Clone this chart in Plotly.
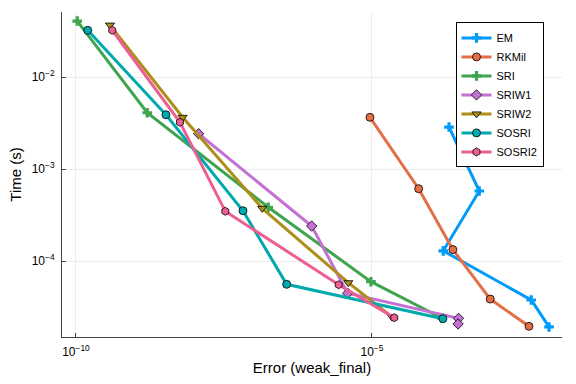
import plotly.graph_objects as go

# ---- data (error, time) ----
names = ["EM", "RKMil", "SRI", "SRIW1", "SRIW2", "SOSRI", "SOSRI2"]

em_err = [2.0e-4, 6.5e-4, 1.6e-4, 4.9e-3, 9.8e-3]
em_time = [2.86e-3, 5.77e-4, 1.29e-4, 3.77e-5, 1.92e-5]

rkmil_err = [9.25e-6, 6.15e-5, 2.33e-4, 9.95e-4, 4.49e-3]
rkmil_time = [3.65e-3, 6.11e-4, 1.33e-4, 3.86e-5, 1.95e-5]

sri_err = [1.05e-10, 1.60e-9, 1.77e-7, 9.6e-6, 1.51e-4]
sri_time = [4.06e-2, 4.09e-3, 3.84e-4, 5.96e-5, 2.40e-5]

sriw1_err = [1.18e-8, 9.57e-7, 3.89e-6, 2.9e-4, 2.85e-4]
sriw1_time = [2.42e-3, 2.40e-4, 4.46e-5, 2.38e-5, 2.07e-5]

sriw2_err = [3.75e-10, 6.34e-9, 1.40e-7, 3.98e-6, 2.18e-5]
sriw2_time = [3.67e-2, 3.65e-3, 3.74e-4, 5.81e-5, 2.46e-5]

sosri_err = [1.58e-10, 3.31e-9, 6.62e-8, 3.62e-7, 1.58e-4]
sosri_time = [3.22e-2, 3.89e-3, 3.52e-4, 5.58e-5, 2.36e-5]

sosri2_err = [4.10e-10, 5.71e-9, 3.33e-8, 2.74e-6, 2.38e-5]
sosri2_time = [3.22e-2, 3.22e-3, 3.47e-4, 5.52e-5, 2.42e-5]

x_tickvals = [1e-10, 1e-5]
x_ticktext = ["10<sup>−10</sup>", "10<sup>−5</sup>"]
y_tickvals = [1e-4, 1e-3, 1e-2]
y_ticktext = ["10<sup>−4</sup>", "10<sup>−3</sup>", "10<sup>−2</sup>"]

series = [
    (em_err, em_time), (rkmil_err, rkmil_time), (sri_err, sri_time),
    (sriw1_err, sriw1_time), (sriw2_err, sriw2_time),
    (sosri_err, sosri_time), (sosri2_err, sosri2_time),
]
colors = ["#009AFA", "#E36F47", "#3EA44E", "#C371D2", "#AC8E18", "#00A9AD", "#ED5E93"]
symbols = ["cross", "circle", "cross", "diamond", "triangle-down", "circle", "hexagon"]
msizes = [8, 8, 8, 8, 8, 8, 8]

fig = go.Figure()
for name, (xe, yt), c, s, ms in zip(names, series, colors, symbols, msizes):
    is_cross = s == "cross"
    fig.add_trace(go.Scatter(
        x=xe, y=yt, name=name, mode="lines+markers",
        line=dict(color=c, width=3),
        marker=dict(symbol=s, size=ms, color=c,
                    line=dict(color=c if is_cross else "black", width=0 if is_cross else 0.8)),
    ))

font = "Liberation Sans, Arial, sans-serif"
axis_common = dict(
    type="log", showline=True, linecolor="#444", linewidth=1, mirror=False,
    ticks="inside", ticklen=4, tickcolor="#444", tickwidth=1,
    showgrid=True, gridcolor="#ececec", gridwidth=1, zeroline=False,
    tickfont=dict(family=font, size=12, color="black"),
    ticklabelstandoff=4, automargin=False,
)

fig.update_layout(
    width=576, height=384,
    margin=dict(l=62, r=14, t=12, b=47),
    paper_bgcolor="white", plot_bgcolor="white",
    font=dict(family=font, color="black"),
    showlegend=True,
    legend=dict(x=0.787, y=0.968, xanchor="left", yanchor="top",
                bgcolor="white", bordercolor="black", borderwidth=1,
                font=dict(family=font, size=11), itemwidth=30,
                tracegroupgap=0),
    xaxis=dict(axis_common, range=[-10.236, -1.79],
               tickvals=x_tickvals, ticktext=x_ticktext,
               title=dict(text="Error (weak_final)", font=dict(family=font, size=15), standoff=4)),
    yaxis=dict(axis_common, range=[-4.826, -1.293],
               tickvals=y_tickvals, ticktext=y_ticktext,
               title=dict(text="Time (s)", font=dict(family=font, size=15), standoff=6)),
)

fig.write_html("out.html", config={"displayModeBar": False},
               post_script="document.body.style.margin='0';")
